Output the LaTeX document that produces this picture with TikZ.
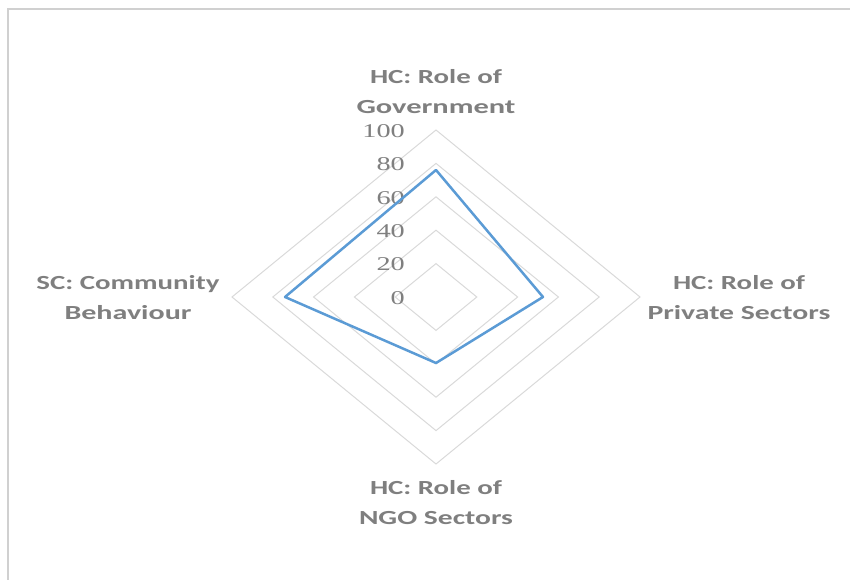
\documentclass[tikz,border=0pt]{standalone}
\usepackage{fontspec}
\usepackage{graphicx}
\usetikzlibrary{calc}
\setmainfont{Carlito}
\newfontfamily\numfont{Liberation Serif}
\definecolor{txtgray}{HTML}{7F7F7F}
\definecolor{gridgray}{HTML}{D9D9D9}
\definecolor{framegray}{HTML}{D0D0D0}
\definecolor{serblue}{HTML}{5B9BD5}
\newcommand{\sx}[2]{\resizebox{#1pt}{\height}{#2}}
\begin{document}
\begin{tikzpicture}[x=1pt,y=-1pt,
  lbl/.style={text=txtgray, font=\fontsize{20}{30}\selectfont\bfseries, inner sep=0pt, align=center},
  num/.style={text=txtgray, font=\fontsize{19.5}{19.5}\selectfont\numfont, inner sep=0pt, anchor=east},
  ring/.style={draw=gridgray, line width=1pt},
  serie/.style={draw=serblue, line width=2.5pt, line join=round},
  frame/.style={draw=framegray, line width=2pt}]
\useasboundingbox (0,0) rectangle (850,580);
% frame
\coordinate (fbl) at (8,580);
\coordinate (ftl) at (8,9);
\coordinate (ftr) at (850,9);
\draw[frame] (fbl) -- (ftl) -- (ftr);
% centre
\coordinate (c) at (436,297);
% rings
\foreach \k in {1,...,5}{
  \draw[ring] ($(c)+(0,-33.4*\k)$) -- ($(c)+(40.8*\k,0)$) -- ($(c)+(0,33.4*\k)$) -- ($(c)+(-40.8*\k,0)$) -- cycle;
}
% value labels
\foreach \k/\v in {0/0,1/20,2/40,3/60,4/80,5/100}{
  \node[num] (n\v) at (405,{298-33.4*\k}) {\scalebox{1.45}[1]{\v}};
}
% data
\coordinate (gov) at (436,170);
\coordinate (priv) at (543,297);
\coordinate (ngo) at (436,363);
\coordinate (comm) at (285,297);
\draw[serie] (gov) -- (priv) -- (ngo) -- (comm) -- cycle;
% category labels
\node[lbl] (lgov) at (436,92) {\sx{132}{HC: Role of}\\\sx{159}{Government}};
\node[lbl] (lpriv) at (739,298) {\sx{132}{HC: Role of}\\\sx{183}{Private Sectors}};
\node[lbl] (lngo) at (436,503) {\sx{132}{HC: Role of}\\\sx{154}{NGO Sectors}};
\node[lbl] (lcomm) at (128,298) {\sx{183}{SC: Community}\\\sx{127}{Behaviour}};
\end{tikzpicture}
\end{document}
